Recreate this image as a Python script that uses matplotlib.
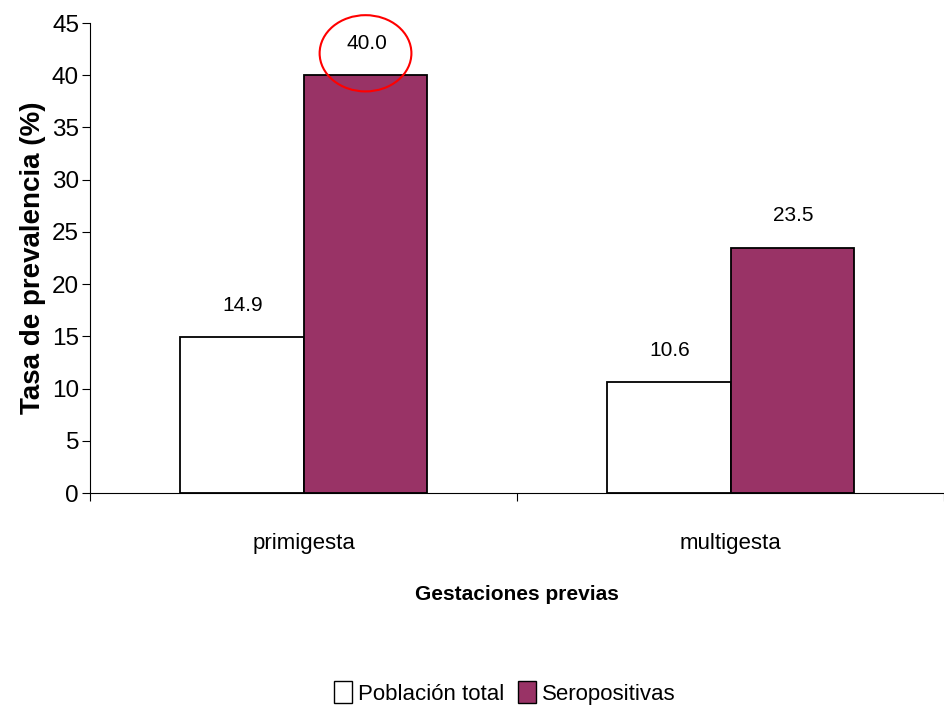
import matplotlib
matplotlib.use('Agg')
import matplotlib.pyplot as plt
from matplotlib.patches import Ellipse, Patch
import numpy as np

plt.rcParams['font.family'] = ['Liberation Sans', 'DejaVu Sans']

categories = ['primigesta', 'multigesta']
series_names = ['Población total', 'Seropositivas']
total = [14.9, 10.6]
seropos = [40.0, 23.5]
yticks = [0, 5, 10, 15, 20, 25, 30, 35, 40, 45]

fig = plt.figure(figsize=(9.44, 7.10), dpi=100)
ax = fig.add_axes([0.0955, 0.3056, 0.9045, 0.662])

x = np.arange(len(categories))
w = 0.29
b1 = ax.bar(x - w / 2, total, w, color='white', edgecolor='black', linewidth=1.3)
b2 = ax.bar(x + w / 2, seropos, w, color='#993366', edgecolor='black', linewidth=1.3)

for bars, vals in [(b1, total), (b2, seropos)]:
    for r, v in zip(bars, vals):
        ax.annotate('%.1f' % v, (r.get_x() + r.get_width() / 2, v),
                    xytext=(1, 32), textcoords='offset pixels',
                    ha='center', va='center', fontsize=15)

# red circle round the highest value
ax.add_patch(Ellipse((x[0] + w / 2, seropos[0] + 2.1), 0.215, 7.3,
                     fill=False, edgecolor='red', linewidth=1.5, clip_on=False))

ax.set_xlim(-0.5, 1.5)
ax.set_ylim(0, 45)
ax.set_yticks(yticks)
ax.set_xticks([-0.5, 0.5, 1.5])
ax.set_xticklabels([])
ax.set_xticks(x, minor=True)
ax.set_xticklabels(categories, minor=True, fontsize=16)
ax.tick_params(axis='x', which='minor', length=0, pad=29)
ax.tick_params(axis='x', which='major', length=6, direction='out')
ax.tick_params(axis='y', length=6, direction='out', labelsize=17.5, pad=2)
for s in ['top', 'right']:
    ax.spines[s].set_visible(False)

ax.set_ylabel('Tasa de prevalencia (%)', fontsize=20, fontweight='bold', labelpad=4)
ax.set_xlabel('Gestaciones previas', fontsize=15, fontweight='bold', labelpad=22)

handles = [Patch(facecolor='white', edgecolor='black'),
           Patch(facecolor='#993366', edgecolor='black')]
fig.legend(handles, series_names, loc='center', bbox_to_anchor=(0.535, 0.024),
           ncol=2, frameon=False, fontsize=16, handlelength=0.8, handleheight=1.1,
           handletextpad=0.3, columnspacing=0.6)

fig.savefig('out.png', dpi=100)
